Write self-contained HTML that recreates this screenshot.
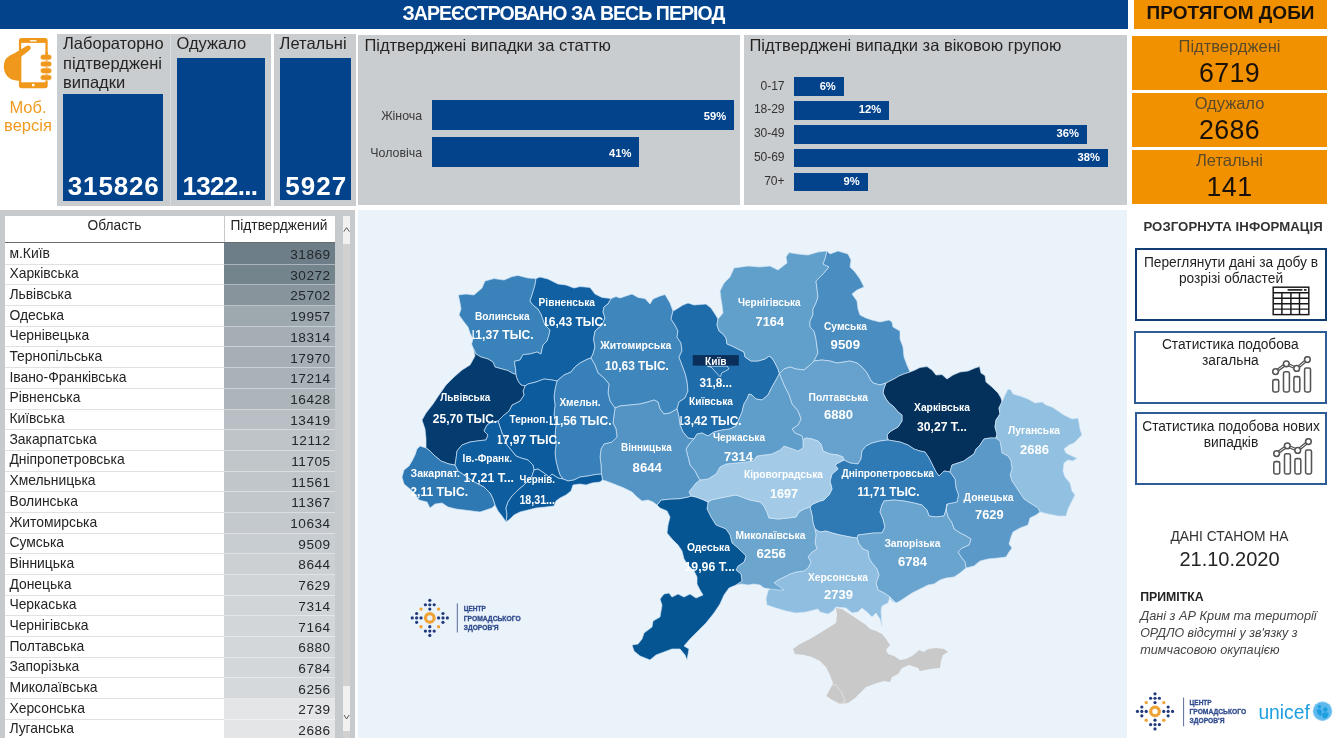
<!DOCTYPE html><html lang="uk"><head><meta charset="utf-8"><title>COVID-19 Україна</title><style>
html,body{margin:0;padding:0;background:#ffffff;}
body{width:1340px;height:739px;position:relative;overflow:hidden;font-family:'Liberation Sans',sans-serif;color:#252423;}
div,span{box-sizing:border-box;}
.abs{position:absolute;}
.t{position:absolute;white-space:nowrap;line-height:1;}
.panel{position:absolute;background:#c9cdd0;}
.bar{position:absolute;background:#02438c;}
.kv{position:absolute;color:#fff;font-weight:bold;font-size:26px;line-height:1;white-space:nowrap;}
.pct{position:absolute;color:#fff;font-weight:bold;font-size:11.2px;line-height:1;white-space:nowrap;text-align:right;}
.lab{position:absolute;color:#3a3a3a;font-size:12.4px;line-height:1;white-space:nowrap;text-align:right;}
.obox{position:absolute;left:1132px;width:195px;background:#f29100;text-align:center;}
.obox .l{position:absolute;left:0;width:195px;font-size:16.5px;line-height:1;color:#5b4a2a;}
.obox .v{position:absolute;left:0;width:195px;font-size:26.8px;line-height:1;color:#1a1208;letter-spacing:0.4px;}
#tbl{position:absolute;left:0;top:210px;width:355px;height:527.5px;background:#c6cacc;overflow:hidden;}
#tbl .th{position:absolute;background:#fff;font-size:13.74px;color:#252423;}
#tbl .th span{position:absolute;top:3.2px;line-height:1;white-space:nowrap;}
#tbl .r{position:absolute;left:5px;width:330px;height:20.69px;}
#tbl .c1{position:absolute;left:0;top:0;width:219px;height:20.69px;background:#fff;border-bottom:1.8px solid #e1e1e1;font-size:13.9px;line-height:1;padding:2.6px 0 0 4.4px;white-space:nowrap;color:#252423;}
#tbl .c2{position:absolute;left:219px;top:0;width:111px;height:20.69px;border-bottom:1.5px solid rgba(255,255,255,0.42);font-size:13.6px;letter-spacing:0.5px;line-height:1;padding:4.1px 4.4px 0 0;text-align:right;color:#23282c;white-space:nowrap;}
.btn{position:absolute;background:#fff;text-align:center;font-size:13.74px;line-height:15.7px;color:#1f1f1f;}
</style></head><body>
<div class="abs" style="left:0;top:0;width:1128px;height:28.7px;background:#02438c"></div>
<div class="t" style="left:0;top:2.1px;width:1127px;text-align:center;color:#fff;font-weight:bold;font-size:19.5px;letter-spacing:-0.93px;line-height:22px">ЗАРЕЄСТРОВАНО ЗА ВЕСЬ ПЕРІОД</div>
<div class="abs" style="left:1134px;top:0;width:193px;height:28.7px;background:#f29100"></div>
<div class="t" style="left:1134px;top:2.1px;width:193px;text-align:center;color:#1a1208;font-weight:bold;font-size:19px;line-height:22px">ПРОТЯГОМ ДОБИ</div>
<svg style="position:absolute;left:0;top:0" width="60" height="96" viewBox="0 0 60 96">
<rect x="18.9" y="38" width="28.8" height="50.3" rx="2.8" fill="#f0981c"/>
<rect x="21.2" y="42.9" width="24.2" height="39.4" fill="#ffffff"/>
<rect x="29.8" y="40.1" width="6.9" height="1.4" rx="0.7" fill="#ffffff" fill-opacity="0.85"/>
<circle cx="33.2" cy="85.1" r="1.45" fill="#ffffff"/>
<path d="M26.6,46 C28.6,44.8 31.6,46.6 30.6,48.8 C29.5,50.6 24,54.5 21.2,56.8 L21.2,80.8 L18.5,80.8 C12,80.6 7,77.5 4.8,72 C3.2,67.5 3.6,62 6.2,58.6 C8.2,56 11.5,54.6 14.5,53.2 Z" fill="#f0981c"/>
<g fill="#f0981c" stroke="#ffffff" stroke-width="0.5"><rect x="40.4" y="54.4" width="11.3" height="5.5" rx="2.7"/><rect x="40.4" y="61.2" width="11.3" height="5.5" rx="2.7"/><rect x="40.4" y="68" width="11.3" height="5.5" rx="2.7"/><rect x="40.4" y="74.8" width="11.3" height="5.5" rx="2.7"/></g>
<rect x="45.4" y="52" width="2.3" height="4" fill="#f0981c"/>
</svg>
<div class="t" style="left:0;top:97.5px;width:56px;text-align:center;color:#f09a1f;font-size:16.5px;line-height:18.6px;white-space:normal">Моб. версія</div>
<div class="abs" style="left:57px;top:34.2px;width:214px;height:171.6px;background:#d9dcdf"></div><div class="panel" style="left:57px;top:34.2px;width:112.8px;height:171.6px"></div>
<div class="panel" style="left:171.1px;top:34.2px;width:99.9px;height:171.6px"></div>
<div class="panel" style="left:273.5px;top:34.2px;width:82.5px;height:171.6px"></div>
<div class="t" style="left:63px;top:34.4px;font-size:16.5px;line-height:19.3px;white-space:normal;width:106px;color:#252423">Лабораторно підтверджені випадки</div>
<div class="t" style="left:176.5px;top:34.4px;font-size:16.5px;line-height:19.3px;color:#252423">Одужало</div>
<div class="t" style="left:279.6px;top:34.4px;font-size:16.5px;line-height:19.3px;color:#252423">Летальні</div>
<div class="bar" style="left:63.2px;top:94.3px;width:100px;height:106.3px"></div>
<div class="bar" style="left:177px;top:58.2px;width:87.6px;height:141.4px"></div>
<div class="bar" style="left:279.8px;top:58.2px;width:71.2px;height:141.4px"></div>
<div class="kv" style="left:67.8px;top:173.1px;letter-spacing:0.85px">315826</div>
<div class="kv" style="left:182.6px;top:173.1px;letter-spacing:-0.7px">1322...</div>
<div class="kv" style="left:285.2px;top:173.1px;letter-spacing:1.1px">5927</div>
<div class="panel" style="left:358px;top:35.2px;width:382.3px;height:169.4px"></div>
<div class="t" style="left:364.4px;top:36px;font-size:16.5px;line-height:19px;color:#252423">Підтверджені випадки за статтю</div>
<div class="bar" style="left:431.8px;top:100.1px;width:302.6px;height:29.8px"></div>
<div class="bar" style="left:431.8px;top:137.1px;width:207.6px;height:29.8px"></div>
<div class="lab" style="left:360px;width:62.2px;top:110.2px">Жіноча</div>
<div class="lab" style="left:360px;width:62.2px;top:147.2px">Чоловіча</div>
<div class="pct" style="left:680px;width:46.2px;top:111.2px">59%</div>
<div class="pct" style="left:585px;width:46.5px;top:148.2px">41%</div>
<div class="panel" style="left:744px;top:35.2px;width:383px;height:169.4px"></div>
<div class="t" style="left:749.4px;top:36px;font-size:16.5px;line-height:19px;color:#252423">Підтверджені випадки за віковою групою</div>
<div class="bar" style="left:794.1px;top:76.9px;width:49.9px;height:18.8px"></div>
<div class="lab" style="left:744px;width:40.4px;top:79.5px;font-size:12.1px;letter-spacing:-0.1px;color:#333">0-17</div>
<div class="pct" style="left:784.0px;width:51.8px;top:80.5px">6%</div>
<div class="bar" style="left:794.1px;top:100.8px;width:95.2px;height:18.8px"></div>
<div class="lab" style="left:744px;width:40.4px;top:103.4px;font-size:12.1px;letter-spacing:-0.1px;color:#333">18-29</div>
<div class="pct" style="left:829.3px;width:51.8px;top:104.4px">12%</div>
<div class="bar" style="left:794.1px;top:124.8px;width:293.1px;height:18.8px"></div>
<div class="lab" style="left:744px;width:40.4px;top:127.4px;font-size:12.1px;letter-spacing:-0.1px;color:#333">30-49</div>
<div class="pct" style="left:1027.2px;width:51.8px;top:128.4px">36%</div>
<div class="bar" style="left:794.1px;top:148.7px;width:314.0px;height:18.8px"></div>
<div class="lab" style="left:744px;width:40.4px;top:151.3px;font-size:12.1px;letter-spacing:-0.1px;color:#333">50-69</div>
<div class="pct" style="left:1048.1px;width:51.8px;top:152.3px">38%</div>
<div class="bar" style="left:794.1px;top:172.6px;width:73.7px;height:18.8px"></div>
<div class="lab" style="left:744px;width:40.4px;top:175.2px;font-size:12.1px;letter-spacing:-0.1px;color:#333">70+</div>
<div class="pct" style="left:807.8px;width:51.8px;top:176.2px">9%</div>
<div class="obox" style="top:35.8px;height:54.6px"><div class="l" style="top:2.6px">Підтверджені</div><div class="v" style="top:24px">6719</div></div>
<div class="obox" style="top:92.8px;height:54.6px"><div class="l" style="top:2.6px">Одужало</div><div class="v" style="top:24px">2686</div></div>
<div class="obox" style="top:149.8px;height:54.6px"><div class="l" style="top:2.6px">Летальні</div><div class="v" style="top:24px">141</div></div>
<div id="tbl">
<div class="th" style="left:5px;top:6px;width:219px;height:26px"><span style="left:0;width:219px;text-align:center">Область</span></div>
<div class="th" style="left:225px;top:6px;width:110px;height:26px"><span style="left:0;width:108px;text-align:center">Підтверджений</span></div>
<div style="position:absolute;left:5px;top:32px;width:330px;height:1px;background:#6b6b6b"></div>
<div class="r" style="top:33px;height:21.69px"><div class="c1" style="height:21.69px;padding-top:3.6px">м.Київ</div><div class="c2" style="height:21.69px;padding-top:5.2px;background:#6e7e88">31869</div></div>
<div class="r" style="top:54.69px"><div class="c1">Харківська</div><div class="c2" style="background:#74848d">30272</div></div>
<div class="r" style="top:75.38px"><div class="c1">Львівська</div><div class="c2" style="background:#87949c">25702</div></div>
<div class="r" style="top:96.07px"><div class="c1">Одеська</div><div class="c2" style="background:#9ea8af">19957</div></div>
<div class="r" style="top:116.76px"><div class="c1">Чернівецька</div><div class="c2" style="background:#a5aeb4">18314</div></div>
<div class="r" style="top:137.45px"><div class="c1">Тернопільська</div><div class="c2" style="background:#a6afb5">17970</div></div>
<div class="r" style="top:158.14px"><div class="c1">Івано-Франківська</div><div class="c2" style="background:#a9b2b8">17214</div></div>
<div class="r" style="top:178.83px"><div class="c1">Рівненська</div><div class="c2" style="background:#acb5ba">16428</div></div>
<div class="r" style="top:199.52px"><div class="c1">Київська</div><div class="c2" style="background:#b9bfc4">13419</div></div>
<div class="r" style="top:220.21px"><div class="c1">Закарпатська</div><div class="c2" style="background:#bec4c8">12112</div></div>
<div class="r" style="top:240.90px"><div class="c1">Дніпропетровська</div><div class="c2" style="background:#c0c6c9">11705</div></div>
<div class="r" style="top:261.59px"><div class="c1">Хмельницька</div><div class="c2" style="background:#c0c6ca">11561</div></div>
<div class="r" style="top:282.28px"><div class="c1">Волинська</div><div class="c2" style="background:#c1c7cb">11367</div></div>
<div class="r" style="top:302.97px"><div class="c1">Житомирська</div><div class="c2" style="background:#c4c9cd">10634</div></div>
<div class="r" style="top:323.66px"><div class="c1">Сумська</div><div class="c2" style="background:#c8cdd1">9509</div></div>
<div class="r" style="top:344.35px"><div class="c1">Вінницька</div><div class="c2" style="background:#ccd0d3">8644</div></div>
<div class="r" style="top:365.04px"><div class="c1">Донецька</div><div class="c2" style="background:#d0d4d7">7629</div></div>
<div class="r" style="top:385.73px"><div class="c1">Черкаська</div><div class="c2" style="background:#d1d5d8">7314</div></div>
<div class="r" style="top:406.42px"><div class="c1">Чернігівська</div><div class="c2" style="background:#d2d6d8">7164</div></div>
<div class="r" style="top:427.11px"><div class="c1">Полтавська</div><div class="c2" style="background:#d3d7d9">6880</div></div>
<div class="r" style="top:447.80px"><div class="c1">Запорізька</div><div class="c2" style="background:#d3d7d9">6784</div></div>
<div class="r" style="top:468.49px"><div class="c1">Миколаївська</div><div class="c2" style="background:#d6d9db">6256</div></div>
<div class="r" style="top:489.18px"><div class="c1">Херсонська</div><div class="c2" style="background:#e4e5e7">2739</div></div>
<div class="r" style="top:509.87px"><div class="c1">Луганська</div><div class="c2" style="background:#e4e5e7">2686</div></div>
<div style="position:absolute;left:343px;top:6px;width:7px;height:522px;background:#d2d1d2"></div>
<div style="position:absolute;left:343px;top:6px;width:7px;height:28px;background:#f1f1f1"></div>
<div style="position:absolute;left:343px;top:476px;width:7px;height:45px;background:#f1f1f1"></div>
<svg style="position:absolute;left:343px;top:16px" width="8" height="8"><path d="M0.8,5.6 L3.6,1.6 L6.4,5.6" fill="none" stroke="#444" stroke-width="0.9"/></svg>
<svg style="position:absolute;left:343px;top:503px" width="8" height="8"><path d="M1,2 L3.6,6 L6.2,2" fill="none" stroke="#444" stroke-width="0.9"/></svg>
</div>
<div class="abs" style="left:358px;top:210px;width:769px;height:527.5px;background:#eaf2fa"></div>
<svg id="map" width="1340" height="739" viewBox="0 0 1340 739" style="position:absolute;left:0;top:0">
<defs>
</defs>
<g stroke="#d4e7f8" stroke-opacity="0.82" stroke-width="0.8" stroke-linejoin="round">
<polygon points="473.6,349.0 471.6,344.0 473.0,339.0 470.0,333.0 468.0,327.0 464.0,322.0 459.0,315.0 461.0,309.0 460.0,303.0 458.4,295.0 466.0,294.0 474.0,295.0 482.0,288.0 485.0,281.0 494.0,278.6 504.0,280.0 512.0,276.6 518.0,275.4 528.0,278.0 536.0,278.6 535.0,285.0 532.0,295.0 530.0,301.0 533.0,305.0 538.0,309.0 541.0,314.0 545.0,325.0 550.0,330.0 549.0,335.0 547.0,341.0 543.0,345.0 541.0,354.0 537.0,352.0 530.0,354.0 523.0,354.6 520.0,360.0 514.4,361.4 515.6,369.0 516.0,374.6 512.0,373.0 508.0,370.6 502.0,369.0 495.0,367.0 493.0,362.0 488.0,359.0 481.0,357.0 476.0,354.0 473.6,349.0" fill="#3982ba"/>
<polygon points="536.0,278.6 540.0,277.0 548.0,279.0 558.0,284.0 566.0,285.0 574.0,288.0 580.0,286.6 590.0,287.4 595.0,294.0 602.0,297.4 611.0,298.6 608.0,304.0 604.0,307.0 603.0,312.0 605.0,318.0 602.0,325.0 595.0,331.0 593.6,339.0 595.0,347.0 593.0,354.0 591.0,358.0 587.0,359.4 580.0,363.0 575.0,367.0 571.0,372.0 564.0,375.0 557.0,381.0 552.0,380.0 544.0,379.0 536.0,382.0 528.0,384.0 525.0,386.0 521.0,385.0 518.0,381.0 516.4,377.0 516.0,374.6 515.6,369.0 514.4,361.4 520.0,360.0 523.0,354.6 530.0,354.0 537.0,352.0 541.0,354.0 543.0,345.0 547.0,341.0 549.0,335.0 550.0,330.0 545.0,325.0 541.0,314.0 538.0,309.0 533.0,305.0 530.0,301.0 532.0,295.0 535.0,285.0 536.0,278.6" fill="#1060a2"/>
<polygon points="611.0,298.6 616.0,296.6 620.0,298.0 626.0,296.0 632.0,294.0 638.0,297.4 645.0,298.6 650.0,304.0 653.0,299.0 660.0,296.0 665.0,294.6 670.0,303.0 673.0,311.0 671.0,319.0 675.0,325.0 678.0,331.0 677.0,337.0 681.0,343.0 682.0,351.0 679.0,357.0 682.0,365.0 685.0,373.0 687.0,381.0 688.0,391.0 685.0,398.0 679.0,402.0 677.0,409.0 670.0,413.0 664.0,414.0 660.0,409.0 658.0,402.0 654.0,400.0 648.0,402.0 640.0,404.0 630.0,405.0 620.0,406.0 615.0,408.0 610.0,401.0 608.0,393.0 609.0,384.0 604.0,378.0 598.0,373.0 595.0,365.0 591.0,358.0 593.0,354.0 595.0,347.0 593.6,339.0 595.0,331.0 602.0,325.0 605.0,318.0 603.0,312.0 604.0,307.0 608.0,304.0 611.0,298.6" fill="#3f86bc"/>
<polygon points="673.0,311.0 675.0,310.0 683.0,305.0 688.0,303.0 694.0,305.0 706.0,304.0 711.0,308.0 715.0,314.0 718.0,319.0 717.0,325.0 719.0,331.0 723.0,334.0 726.0,338.0 727.0,344.0 732.0,346.0 738.0,349.0 744.0,352.0 745.0,357.0 751.0,361.0 758.0,361.0 765.0,359.0 769.0,356.0 772.0,358.0 775.0,363.0 778.0,369.0 779.4,373.6 776.0,380.0 772.0,387.0 768.0,395.0 762.0,400.0 756.0,399.0 752.0,395.0 749.0,394.0 747.0,399.0 744.0,404.0 742.0,412.0 739.0,419.0 736.0,426.0 730.0,429.0 722.0,430.0 714.0,432.0 708.0,436.0 702.0,433.0 697.0,434.0 694.0,439.0 688.0,438.0 683.0,432.0 680.0,425.0 679.0,417.0 677.0,409.0 679.0,402.0 685.0,398.0 688.0,391.0 687.0,381.0 685.0,373.0 682.0,365.0 679.0,357.0 682.0,351.0 681.0,343.0 677.0,337.0 678.0,331.0 675.0,325.0 671.0,319.0 673.0,311.0" fill="#1f6cab"/>
<polygon points="718.0,319.0 723.0,313.0 722.0,305.0 721.0,299.0 720.0,291.0 724.0,283.0 730.0,277.0 734.0,268.0 748.0,266.0 760.0,267.0 770.0,266.0 778.0,270.0 787.0,263.0 786.0,257.0 789.0,252.6 798.0,254.0 808.0,255.0 818.0,252.0 827.0,251.0 825.0,259.0 823.0,264.0 829.0,267.0 824.0,273.0 820.0,277.0 816.0,281.0 817.0,289.0 818.0,297.0 816.0,303.0 813.0,309.0 813.0,315.0 810.0,321.0 810.0,327.0 814.0,331.0 816.0,339.0 817.0,347.0 818.0,353.0 816.0,357.0 814.0,361.0 810.0,365.0 804.0,370.0 796.0,369.0 790.0,367.0 784.0,369.0 779.4,373.6 778.0,369.0 775.0,363.0 772.0,358.0 769.0,356.0 765.0,359.0 758.0,361.0 751.0,361.0 745.0,357.0 744.0,352.0 738.0,349.0 732.0,346.0 727.0,344.0 726.0,338.0 723.0,334.0 719.0,331.0 717.0,325.0 718.0,319.0" fill="#62a0cc"/>
<polygon points="827.0,251.0 830.0,254.0 838.0,251.0 848.0,254.0 851.0,260.0 850.0,267.0 855.0,272.0 860.0,279.0 864.0,287.0 857.0,290.0 852.0,294.0 857.0,301.0 858.0,309.0 860.0,315.0 866.0,318.0 872.0,320.0 880.0,322.0 889.0,320.0 892.0,322.0 893.0,327.0 900.0,331.0 900.0,339.0 903.0,347.0 904.0,357.0 907.0,365.0 910.0,372.0 904.0,374.0 899.0,376.0 894.0,379.0 886.0,383.0 880.0,385.0 873.0,383.0 870.0,379.0 867.0,373.0 862.0,367.0 857.0,363.0 850.0,361.0 844.0,362.0 837.0,363.0 830.0,361.0 822.0,360.0 814.0,361.0 816.0,357.0 818.0,353.0 817.0,347.0 816.0,339.0 814.0,331.0 810.0,327.0 810.0,321.0 813.0,315.0 813.0,309.0 816.0,303.0 818.0,297.0 817.0,289.0 816.0,281.0 820.0,277.0 824.0,273.0 829.0,267.0 823.0,264.0 825.0,259.0 827.0,251.0" fill="#4a8ec1"/>
<polygon points="910.0,372.0 915.0,370.0 920.0,367.4 927.0,366.6 932.0,370.0 936.0,375.0 942.0,374.6 947.0,379.0 953.0,375.0 960.0,372.0 968.0,371.0 975.0,368.0 979.6,366.6 981.0,373.0 985.0,375.6 986.0,382.0 992.0,387.0 998.0,393.0 1001.0,398.0 1002.0,402.0 999.0,408.0 1000.0,414.0 996.0,420.0 995.0,427.0 997.0,434.0 996.0,438.0 990.0,438.0 984.0,439.0 980.0,445.0 976.0,449.0 974.0,454.0 968.0,458.0 964.0,461.0 958.0,463.0 952.0,465.0 950.0,472.0 944.0,471.0 939.0,476.0 936.0,472.0 932.0,464.0 929.0,458.0 925.0,452.0 920.0,451.0 914.0,449.0 908.0,445.0 900.0,442.0 894.0,441.0 888.0,440.0 887.0,435.0 891.0,431.0 898.0,427.0 902.0,421.0 902.0,415.0 898.0,412.0 894.0,407.0 889.0,403.0 886.0,399.0 883.0,393.0 884.0,388.0 886.0,383.0 894.0,379.0 899.0,376.0 904.0,374.0 910.0,372.0" fill="#03315c"/>
<polygon points="1002.0,402.0 1005.0,395.0 1008.0,389.0 1011.0,390.0 1013.0,394.0 1020.0,396.0 1028.0,399.0 1035.0,403.0 1042.0,402.0 1046.0,405.0 1052.0,407.0 1058.0,411.0 1064.0,415.0 1072.0,419.0 1078.0,418.0 1079.0,423.0 1080.0,429.0 1082.0,435.0 1078.0,439.0 1074.0,443.0 1069.0,445.0 1064.0,449.0 1066.0,453.0 1072.0,456.0 1077.0,458.0 1073.0,461.0 1068.0,460.0 1064.0,463.0 1063.0,471.0 1065.0,477.0 1070.0,483.0 1072.0,491.0 1075.0,495.0 1072.0,501.0 1068.0,509.0 1066.0,516.0 1058.0,516.0 1048.0,514.0 1040.0,512.0 1038.0,508.0 1030.0,503.0 1024.0,499.0 1020.0,493.0 1016.0,487.0 1012.0,481.0 1010.0,475.0 1012.0,469.0 1011.0,461.0 1008.0,456.0 1002.0,453.0 1001.0,447.0 1000.0,441.0 996.0,438.0 997.0,434.0 995.0,427.0 996.0,420.0 1000.0,414.0 999.0,408.0 1002.0,402.0" fill="#92c0e1"/>
<polygon points="996.0,438.0 1000.0,441.0 1001.0,447.0 1002.0,453.0 1008.0,456.0 1011.0,461.0 1012.0,469.0 1010.0,475.0 1012.0,481.0 1016.0,487.0 1020.0,493.0 1024.0,499.0 1030.0,503.0 1038.0,508.0 1040.0,512.0 1036.0,515.0 1030.0,518.0 1028.0,525.0 1020.0,528.0 1013.0,532.0 1011.0,537.0 1009.0,544.0 1012.0,548.0 1009.0,552.0 1006.0,557.0 998.0,558.0 988.0,559.0 980.0,561.0 974.0,566.0 966.0,568.0 965.0,562.0 961.0,557.0 958.0,552.0 962.0,548.0 969.0,545.0 971.0,539.0 966.0,536.0 960.0,533.0 954.0,529.0 952.0,523.0 948.0,517.0 946.0,510.0 947.0,504.0 957.0,502.0 958.5,495.0 956.0,488.0 955.0,479.0 950.0,472.0 952.0,465.0 958.0,463.0 964.0,461.0 968.0,458.0 974.0,454.0 976.0,449.0 980.0,445.0 984.0,439.0 990.0,438.0 996.0,438.0" fill="#5a99c8"/>
<polygon points="779.4,373.6 784.0,369.0 790.0,367.0 796.0,369.0 804.0,370.0 810.0,365.0 814.0,361.0 822.0,360.0 830.0,361.0 837.0,363.0 844.0,362.0 850.0,361.0 857.0,363.0 862.0,367.0 867.0,373.0 870.0,379.0 873.0,383.0 880.0,385.0 886.0,383.0 884.0,388.0 883.0,393.0 886.0,399.0 889.0,403.0 894.0,407.0 898.0,412.0 902.0,415.0 902.0,421.0 898.0,427.0 891.0,431.0 887.0,435.0 888.0,440.0 880.0,441.0 872.0,443.0 866.0,446.0 862.0,451.0 861.0,459.0 858.0,464.0 850.0,463.0 844.0,460.0 843.0,457.0 838.0,455.0 830.0,454.0 823.0,451.0 821.0,444.0 818.0,441.0 812.0,439.0 806.0,438.0 803.0,440.0 802.0,436.0 795.0,433.0 792.0,429.0 798.0,425.0 801.0,419.0 798.0,411.0 792.0,404.0 789.0,395.0 784.0,385.0 779.4,373.6" fill="#66a2cd"/>
<polygon points="844.0,460.0 850.0,463.0 858.0,464.0 861.0,459.0 862.0,451.0 866.0,446.0 872.0,443.0 880.0,441.0 888.0,440.0 894.0,441.0 900.0,442.0 908.0,445.0 914.0,449.0 920.0,451.0 925.0,452.0 929.0,458.0 932.0,464.0 936.0,472.0 939.0,476.0 944.0,471.0 950.0,472.0 955.0,479.0 956.0,488.0 958.5,495.0 957.0,502.0 947.0,504.0 946.0,510.0 944.0,516.0 936.0,517.0 929.0,516.0 927.0,510.0 922.0,505.0 914.0,503.0 904.0,501.0 894.0,500.0 884.0,501.0 882.0,505.0 880.0,512.0 883.0,519.0 885.0,527.0 882.0,533.0 874.0,533.0 866.0,534.0 858.0,535.0 857.0,538.0 850.0,537.0 840.0,535.0 832.0,533.0 826.0,531.0 820.0,532.0 815.0,529.0 813.0,523.0 812.0,515.0 810.0,507.0 813.0,504.0 820.0,501.0 824.0,500.0 829.0,495.0 832.0,489.0 830.0,481.0 832.0,474.0 838.0,469.0 835.0,465.0 838.0,463.0 844.0,460.0" fill="#2f7ab5"/>
<polygon points="857.0,538.0 858.0,535.0 866.0,534.0 874.0,533.0 882.0,533.0 885.0,527.0 883.0,519.0 880.0,512.0 882.0,505.0 884.0,501.0 894.0,500.0 904.0,501.0 914.0,503.0 922.0,505.0 927.0,510.0 929.0,516.0 936.0,517.0 944.0,516.0 946.0,510.0 947.0,504.0 946.0,510.0 948.0,517.0 952.0,523.0 954.0,529.0 960.0,533.0 966.0,536.0 971.0,539.0 969.0,545.0 962.0,548.0 958.0,552.0 961.0,557.0 965.0,562.0 966.0,568.0 960.0,573.0 954.0,577.0 946.0,578.0 940.0,580.0 934.0,584.0 928.0,585.0 920.0,589.0 912.0,593.0 906.0,597.0 900.0,601.0 896.0,603.0 890.0,597.0 884.0,593.0 878.0,590.0 876.0,583.0 879.0,575.0 877.0,569.0 872.0,563.0 869.0,558.0 868.0,551.0 863.0,549.0 859.0,544.0 857.0,538.0" fill="#68a4ce"/>
<polygon points="815.0,529.0 820.0,532.0 826.0,531.0 832.0,533.0 840.0,535.0 850.0,537.0 857.0,538.0 859.0,544.0 863.0,549.0 868.0,551.0 869.0,558.0 872.0,563.0 877.0,569.0 879.0,575.0 876.0,583.0 878.0,590.0 884.0,593.0 890.0,597.0 896.0,603.0 894.0,602.0 891.0,600.0 890.0,597.0 888.0,603.0 882.0,606.0 881.0,611.0 882.0,627.0 880.0,619.0 876.0,613.0 872.0,617.0 868.0,613.0 862.0,608.0 858.0,612.0 852.0,613.0 846.0,608.0 836.0,607.0 833.0,611.0 828.0,614.0 820.0,612.0 818.0,609.0 814.0,610.0 806.0,612.0 796.0,613.0 786.0,611.0 776.0,608.0 767.0,605.0 766.0,599.0 768.0,591.0 774.0,583.0 778.0,580.0 784.0,577.0 790.0,574.0 796.0,572.0 804.0,571.0 808.0,568.0 811.0,562.0 808.0,557.0 812.0,552.0 817.0,549.0 815.0,543.0 816.0,535.0 815.0,529.0" fill="#8fbee0"/>
<polygon points="708.0,502.0 711.0,500.0 720.0,498.0 730.0,496.0 736.0,495.0 742.0,497.0 750.0,500.0 760.0,502.0 764.0,506.0 767.0,512.0 769.0,518.0 778.0,519.0 788.0,518.0 796.0,517.0 799.0,512.0 804.0,509.0 810.0,507.0 812.0,515.0 813.0,523.0 815.0,529.0 816.0,535.0 815.0,543.0 817.0,549.0 812.0,552.0 808.0,557.0 811.0,562.0 808.0,568.0 804.0,571.0 796.0,572.0 790.0,574.0 784.0,577.0 778.0,580.0 774.0,583.0 780.0,587.0 784.0,590.0 778.0,590.0 770.0,589.0 764.0,588.0 760.0,585.0 754.0,584.0 748.0,585.0 742.0,584.0 736.0,585.0 742.0,581.0 741.0,574.0 736.0,570.0 738.0,566.0 744.0,562.0 746.0,556.0 742.0,552.0 738.0,548.0 732.0,543.0 730.0,535.0 726.0,529.0 716.0,525.0 711.0,517.0 707.0,509.0 708.0,502.0" fill="#6ca6cf"/>
<polygon points="657.0,505.0 661.0,500.0 670.0,499.0 680.0,498.6 688.0,497.0 691.0,496.0 696.0,497.0 703.0,499.6 708.0,502.0 707.0,509.0 711.0,517.0 716.0,525.0 726.0,529.0 730.0,535.0 732.0,543.0 738.0,548.0 742.0,552.0 746.0,556.0 744.0,562.0 738.0,566.0 736.0,570.0 741.0,574.0 742.0,581.0 736.0,585.0 729.0,588.0 724.0,595.0 720.0,604.0 714.0,613.0 706.0,623.0 698.0,631.0 690.0,639.0 684.0,646.0 689.0,649.0 687.0,660.0 685.0,655.0 680.0,649.0 672.0,649.0 664.0,652.0 656.0,655.0 650.0,660.0 640.0,656.0 634.0,651.0 632.0,645.0 638.0,644.0 642.0,639.0 644.0,633.0 652.0,627.0 653.0,621.0 660.0,617.0 661.0,611.0 662.0,605.0 660.0,599.0 664.0,594.0 669.0,593.0 672.0,597.0 678.0,594.0 684.0,597.0 690.0,594.0 696.0,598.0 703.0,595.0 700.0,590.0 697.0,584.0 697.0,577.0 694.0,571.0 688.0,565.0 684.0,559.0 682.0,551.0 678.0,545.0 672.0,539.0 667.0,533.0 668.0,525.0 670.0,517.0 667.0,511.0 660.0,508.0 657.0,505.0" fill="#055593"/>
<polygon points="700.0,480.0 708.0,479.0 716.0,474.0 720.0,467.0 726.0,464.0 736.0,463.0 746.0,462.0 753.0,461.0 757.0,456.0 764.0,455.0 772.0,454.0 780.0,450.0 784.0,446.0 790.0,448.0 798.0,451.0 803.0,448.0 803.0,440.0 806.0,438.0 812.0,439.0 818.0,441.0 821.0,444.0 823.0,451.0 830.0,454.0 838.0,455.0 843.0,457.0 844.0,460.0 838.0,463.0 835.0,465.0 838.0,469.0 832.0,474.0 830.0,481.0 832.0,489.0 829.0,495.0 824.0,500.0 820.0,501.0 813.0,504.0 810.0,507.0 804.0,509.0 799.0,512.0 796.0,517.0 788.0,518.0 778.0,519.0 769.0,518.0 767.0,512.0 764.0,506.0 760.0,502.0 750.0,500.0 742.0,497.0 736.0,495.0 730.0,496.0 720.0,498.0 711.0,500.0 708.0,502.0 703.0,499.6 696.0,497.0 691.0,496.0 689.0,492.0 692.0,488.0 696.0,483.0 700.0,480.0" fill="#a3cbe8"/>
<polygon points="694.0,439.0 697.0,434.0 702.0,433.0 708.0,436.0 714.0,432.0 722.0,430.0 730.0,429.0 736.0,426.0 739.0,419.0 742.0,412.0 744.0,404.0 747.0,399.0 749.0,394.0 752.0,395.0 756.0,399.0 762.0,400.0 768.0,395.0 772.0,387.0 776.0,380.0 779.4,373.6 784.0,385.0 789.0,395.0 792.0,404.0 798.0,411.0 801.0,419.0 798.0,425.0 792.0,429.0 795.0,433.0 802.0,436.0 803.0,440.0 803.0,448.0 798.0,451.0 790.0,448.0 784.0,446.0 780.0,450.0 772.0,454.0 764.0,455.0 757.0,456.0 753.0,461.0 746.0,462.0 736.0,463.0 726.0,464.0 720.0,467.0 716.0,474.0 708.0,479.0 700.0,480.0 698.0,477.0 695.0,471.0 690.0,465.0 688.0,457.0 686.0,449.0 690.0,443.0 694.0,439.0" fill="#5f9dca"/>
<polygon points="615.0,408.0 620.0,406.0 630.0,405.0 640.0,404.0 648.0,402.0 654.0,400.0 658.0,402.0 660.0,409.0 664.0,414.0 670.0,413.0 677.0,409.0 679.0,417.0 680.0,425.0 683.0,432.0 688.0,438.0 694.0,439.0 690.0,443.0 686.0,449.0 688.0,457.0 690.0,465.0 695.0,471.0 698.0,477.0 700.0,480.0 696.0,483.0 692.0,488.0 689.0,492.0 691.0,496.0 688.0,497.0 680.0,498.6 670.0,499.0 661.0,500.0 657.0,505.0 653.0,502.0 648.0,500.0 642.0,501.0 637.0,497.0 632.0,492.0 624.0,488.0 614.0,484.0 606.0,481.0 602.4,480.0 601.5,474.0 601.0,465.0 600.0,457.0 601.0,449.0 604.0,444.0 612.0,442.0 617.0,437.0 616.0,429.0 613.0,423.0 614.0,415.0 615.0,408.0" fill="#5394c5"/>
<polygon points="557.0,381.0 564.0,375.0 571.0,372.0 575.0,367.0 580.0,363.0 587.0,359.4 591.0,358.0 595.0,365.0 598.0,373.0 604.0,378.0 609.0,384.0 608.0,393.0 610.0,401.0 615.0,408.0 614.0,415.0 613.0,423.0 616.0,429.0 617.0,437.0 612.0,442.0 604.0,444.0 601.0,449.0 600.0,457.0 601.0,465.0 601.5,474.0 595.0,474.6 588.0,476.0 580.0,477.0 574.0,480.0 568.0,481.0 563.0,479.0 560.0,475.0 558.0,469.0 556.0,461.0 555.0,453.0 556.0,445.0 555.0,435.0 556.0,425.0 554.0,415.0 555.0,405.0 554.0,397.0 555.0,389.0 557.0,381.0" fill="#3780b9"/>
<polygon points="557.0,381.0 552.0,380.0 544.0,379.0 536.0,382.0 528.0,384.0 525.0,386.0 523.0,391.0 524.0,395.0 520.0,401.0 512.0,405.0 509.0,411.0 504.0,415.0 498.0,421.0 500.0,427.0 502.0,433.0 505.0,439.0 507.0,445.0 512.0,451.0 516.0,456.0 521.0,458.0 528.0,460.0 533.0,465.0 534.0,470.0 538.0,469.0 544.0,473.0 549.0,477.0 552.0,474.0 558.0,478.0 563.0,479.0 560.0,475.0 558.0,469.0 556.0,461.0 555.0,453.0 556.0,445.0 555.0,435.0 556.0,425.0 554.0,415.0 555.0,405.0 554.0,397.0 555.0,389.0 557.0,381.0" fill="#0b5b9d"/>
<polygon points="473.6,349.0 476.0,354.0 481.0,357.0 488.0,359.0 493.0,362.0 495.0,367.0 502.0,369.0 508.0,370.6 512.0,373.0 516.0,374.6 516.4,377.0 518.0,381.0 521.0,385.0 525.0,386.0 523.0,391.0 524.0,395.0 520.0,401.0 512.0,405.0 509.0,411.0 504.0,415.0 498.0,421.0 490.0,423.0 487.0,425.0 484.0,431.0 488.0,435.0 486.0,440.0 480.0,440.6 470.0,442.0 462.0,445.0 457.0,451.0 456.0,459.0 455.0,465.0 449.0,464.0 441.0,461.0 435.0,456.0 430.0,451.0 426.0,448.0 426.0,439.0 425.0,429.0 422.0,420.0 426.0,413.0 433.0,404.0 439.0,395.0 446.0,385.0 454.0,377.0 462.0,370.0 470.0,365.0 475.0,356.0 473.6,349.0" fill="#043c6f"/>
<polygon points="455.0,465.0 456.0,459.0 457.0,451.0 462.0,445.0 470.0,442.0 480.0,440.6 486.0,440.0 488.0,435.0 484.0,431.0 487.0,425.0 490.0,423.0 498.0,421.0 500.0,427.0 502.0,433.0 505.0,439.0 507.0,445.0 512.0,451.0 516.0,456.0 521.0,458.0 528.0,460.0 533.0,465.0 534.0,470.0 532.0,476.0 530.0,479.0 524.0,485.0 518.0,490.0 512.0,496.0 508.0,502.0 506.0,508.0 507.0,515.0 506.0,522.0 502.0,516.0 498.0,511.0 495.0,505.0 493.0,499.0 490.0,493.0 484.0,487.0 478.0,484.0 471.0,480.0 464.0,475.0 458.0,471.0 455.0,465.0" fill="#0e5d9f"/>
<polygon points="426.0,448.0 430.0,451.0 435.0,456.0 441.0,461.0 449.0,464.0 455.0,465.0 458.0,471.0 464.0,475.0 471.0,480.0 478.0,484.0 484.0,487.0 490.0,493.0 493.0,499.0 495.0,505.0 492.0,508.0 486.0,510.0 480.0,512.0 472.0,511.0 464.0,510.0 456.0,509.0 448.0,507.0 442.0,503.0 435.0,504.0 430.0,508.0 427.0,502.0 419.0,500.0 415.0,494.0 410.0,489.0 404.0,484.0 402.0,477.0 404.0,470.0 409.0,466.0 412.0,461.0 415.0,455.0 417.0,449.0 420.0,446.0 426.0,448.0" fill="#2e79b4"/>
<polygon points="534.0,470.0 538.0,469.0 544.0,473.0 549.0,477.0 552.0,474.0 558.0,478.0 563.0,479.0 568.0,481.0 574.0,480.0 580.0,477.0 588.0,476.0 595.0,474.6 601.5,474.0 602.4,480.0 600.0,482.0 592.0,483.0 586.0,485.0 580.0,484.0 573.0,485.0 571.0,491.0 566.0,495.0 560.0,498.0 556.0,501.0 554.0,506.0 546.0,507.0 536.0,508.0 528.0,510.0 520.0,512.0 514.0,515.0 510.0,519.0 506.0,522.0 507.0,515.0 506.0,508.0 508.0,502.0 512.0,496.0 518.0,490.0 524.0,485.0 530.0,479.0 532.0,476.0 534.0,470.0" fill="#0a5a9b"/>
<polygon points="707.3,366.2 711.0,367.0 714.7,371.0 718.8,375.4 720.2,376.8 721.9,372.7 725.6,371.0 728.9,369.0 727.3,366.2" fill="#1f6cab" stroke="#d8ebfb" stroke-opacity="0.95" stroke-width="0.8"/>
</g>
<polygon points="836.0,608.0 837.0,615.0 836.0,623.0 828.0,628.0 820.0,633.0 810.0,639.0 800.0,644.0 793.0,649.0 795.0,654.0 804.0,655.0 812.0,657.0 820.0,661.0 826.0,667.0 830.0,675.0 833.0,683.0 830.0,691.0 827.0,696.0 832.0,700.0 840.0,704.0 848.0,703.0 855.0,698.0 860.0,693.0 866.0,687.0 874.0,684.0 884.0,681.0 890.0,682.0 892.0,677.0 898.0,674.0 902.0,668.0 909.0,665.0 918.0,668.0 920.0,671.0 930.0,669.0 940.0,668.0 941.0,661.0 943.0,655.0 948.0,652.0 944.0,649.0 936.0,648.0 928.0,649.0 924.0,652.0 919.0,650.0 916.0,653.0 912.0,656.0 906.0,659.0 900.0,660.0 894.0,656.0 888.0,654.0 886.0,650.0 890.0,645.0 886.0,639.0 882.0,634.0 876.0,631.0 870.0,629.0 866.0,625.0 860.0,621.0 854.0,617.0 848.0,613.0 842.0,609.0" fill="#c9c9c9"/>
<polygon points="826.0,696.0 832.0,685.0 836.0,685.0 842.0,693.0 845.0,702.0 840.0,704.0 832.0,700.0" fill="#c9c9c9" stroke="#eeeeee" stroke-width="0.6"/>
<rect x="692.8" y="355.1" width="46" height="10.5" fill="#0b2f5b"/>
<g font-family="'Liberation Sans', sans-serif" font-weight="bold" fill="#ffffff" text-anchor="middle">
 <text x="715.8" y="364.5" font-size="10.3" textLength="21.6" lengthAdjust="spacingAndGlyphs">Київ</text>
<text x="715.8" y="386.7" font-size="13" textLength="32.6" lengthAdjust="spacingAndGlyphs">31,8...</text>
<text x="502.3" y="319.6" font-size="10.3" textLength="54.5" lengthAdjust="spacingAndGlyphs">Волинська</text>
<clipPath id="vVol"><rect x="472.5" y="325.4" width="90" height="20"/></clipPath><g clip-path="url(#vVol)"><text x="533.7" y="339.4" font-size="13.4" text-anchor="end" textLength="64.4" lengthAdjust="spacingAndGlyphs">11,37 ТЫС.</text></g>
<text x="566.8" y="305.6" font-size="10.3" textLength="56.4" lengthAdjust="spacingAndGlyphs">Рівненська</text>
<clipPath id="vRiv"><rect x="545" y="311.6" width="90" height="20"/></clipPath><g clip-path="url(#vRiv)"><text x="606.6" y="325.6" font-size="13.4" text-anchor="end" textLength="64.4" lengthAdjust="spacingAndGlyphs">16,43 ТЫС.</text></g>
<text x="635.8" y="348.7" font-size="10.3" textLength="71" lengthAdjust="spacingAndGlyphs">Житомирська</text>
<text x="668.9" y="369.8" font-size="13.4" text-anchor="end" textLength="63.9" lengthAdjust="spacingAndGlyphs">10,63 ТЫС.</text>
<text x="465.2" y="400.8" font-size="10.3" textLength="50" lengthAdjust="spacingAndGlyphs">Львівська</text>
<text x="497.2" y="422.8" font-size="13.4" text-anchor="end" textLength="64.4" lengthAdjust="spacingAndGlyphs">25,70 ТЫС.</text>
<text x="528.9" y="423.4" font-size="10.3" textLength="38.6" lengthAdjust="spacingAndGlyphs">Терноп.</text>
<clipPath id="vTer"><rect x="497.8" y="429.5" width="90" height="20"/></clipPath><g clip-path="url(#vTer)"><text x="560.5" y="443.5" font-size="13.4" text-anchor="end" textLength="64.4" lengthAdjust="spacingAndGlyphs">17,97 ТЫС.</text></g>
<text x="580" y="405.5" font-size="10.3" textLength="41.2" lengthAdjust="spacingAndGlyphs">Хмельн.</text>
<clipPath id="vKhm"><rect x="549.7" y="411.2" width="90" height="20"/></clipPath><g clip-path="url(#vKhm)"><text x="611.5" y="425.2" font-size="13.4" text-anchor="end" textLength="64.4" lengthAdjust="spacingAndGlyphs">11,56 ТЫС.</text></g>
<text x="646.4" y="451.4" font-size="10.3" textLength="50.7" lengthAdjust="spacingAndGlyphs">Вінницька</text>
<text x="661.8" y="472.3" font-size="13.4" text-anchor="end" textLength="29.2" lengthAdjust="spacingAndGlyphs">8644</text>
<text x="711" y="404.8" font-size="10.3" textLength="43.9" lengthAdjust="spacingAndGlyphs">Київська</text>
<clipPath id="vKyiv"><rect x="680.4" y="410.5" width="90" height="20"/></clipPath><g clip-path="url(#vKyiv)"><text x="741.7" y="424.5" font-size="13.4" text-anchor="end" textLength="64.4" lengthAdjust="spacingAndGlyphs">13,42 ТЫС.</text></g>
<text x="739" y="440.6" font-size="10.3" textLength="52" lengthAdjust="spacingAndGlyphs">Черкаська</text>
<text x="753" y="460.6" font-size="13.4" text-anchor="end" textLength="29" lengthAdjust="spacingAndGlyphs">7314</text>
<text x="838.3" y="400.6" font-size="10.3" textLength="59.4" lengthAdjust="spacingAndGlyphs">Полтавська</text>
<text x="853" y="419.4" font-size="13.4" text-anchor="end" textLength="29" lengthAdjust="spacingAndGlyphs">6880</text>
<text x="783.5" y="478" font-size="10.3" textLength="79" lengthAdjust="spacingAndGlyphs">Кіровоградська</text>
<text x="798" y="498" font-size="13.4" text-anchor="end" textLength="28" lengthAdjust="spacingAndGlyphs">1697</text>
<text x="887.7" y="476.6" font-size="10.3" textLength="92.5" lengthAdjust="spacingAndGlyphs">Дніпропетровська</text>
<text x="919.5" y="496.4" font-size="13.4" text-anchor="end" textLength="62" lengthAdjust="spacingAndGlyphs">11,71 ТЫС.</text>
<text x="942" y="411" font-size="10.3" textLength="56" lengthAdjust="spacingAndGlyphs">Харківська</text>
<text x="967" y="430.6" font-size="13.4" text-anchor="end" textLength="50" lengthAdjust="spacingAndGlyphs">30,27 Т...</text>
<text x="1034" y="434" font-size="10.3" textLength="52" lengthAdjust="spacingAndGlyphs">Луганська</text>
<text x="1049" y="454" font-size="13.4" text-anchor="end" textLength="29" lengthAdjust="spacingAndGlyphs">2686</text>
<text x="988.6" y="500.6" font-size="10.3" textLength="50" lengthAdjust="spacingAndGlyphs">Донецька</text>
<text x="1003.6" y="519.4" font-size="13.4" text-anchor="end" textLength="28.6" lengthAdjust="spacingAndGlyphs">7629</text>
<text x="912.4" y="546.6" font-size="10.3" textLength="56" lengthAdjust="spacingAndGlyphs">Запорізька</text>
<text x="927" y="565.6" font-size="13.4" text-anchor="end" textLength="29" lengthAdjust="spacingAndGlyphs">6784</text>
<text x="769.3" y="305.6" font-size="10.3" textLength="62.6" lengthAdjust="spacingAndGlyphs">Чернігівська</text>
<text x="784" y="325.6" font-size="13.4" text-anchor="end" textLength="28.4" lengthAdjust="spacingAndGlyphs">7164</text>
<text x="845.5" y="330" font-size="10.3" textLength="43" lengthAdjust="spacingAndGlyphs">Сумська</text>
<text x="860" y="349" font-size="13.4" text-anchor="end" textLength="29.4" lengthAdjust="spacingAndGlyphs">9509</text>
<text x="708.5" y="551" font-size="10.3" textLength="43" lengthAdjust="spacingAndGlyphs">Одеська</text>
<clipPath id="vOde"><rect x="685.4" y="556.6" width="90" height="20"/></clipPath><g clip-path="url(#vOde)"><text x="735" y="570.6" font-size="13.4" text-anchor="end" textLength="50.5" lengthAdjust="spacingAndGlyphs">19,96 Т...</text></g>
<text x="770.4" y="538.6" font-size="10.3" textLength="70" lengthAdjust="spacingAndGlyphs">Миколаївська</text>
<text x="786" y="557.6" font-size="13.4" text-anchor="end" textLength="29.6" lengthAdjust="spacingAndGlyphs">6256</text>
<text x="838" y="580.6" font-size="10.3" textLength="60" lengthAdjust="spacingAndGlyphs">Херсонська</text>
<text x="853" y="599.4" font-size="13.4" text-anchor="end" textLength="29" lengthAdjust="spacingAndGlyphs">2739</text>
<text x="487.3" y="462" font-size="10.3" textLength="49.4" lengthAdjust="spacingAndGlyphs">Ів.-Франк.</text>
<clipPath id="vIF"><rect x="464.2" y="468" width="90" height="20"/></clipPath><g clip-path="url(#vIF)"><text x="514" y="482" font-size="13.4" text-anchor="end" textLength="50.5" lengthAdjust="spacingAndGlyphs">17,21 Т...</text></g>
<text x="435.3" y="476.5" font-size="10.3" textLength="49.5" lengthAdjust="spacingAndGlyphs">Закарпат.</text>
<clipPath id="vZak"><rect x="411.3" y="481.6" width="90" height="20"/></clipPath><g clip-path="url(#vZak)"><text x="468" y="495.6" font-size="13.4" text-anchor="end" textLength="64.4" lengthAdjust="spacingAndGlyphs">12,11 ТЫС.</text></g>
<text x="537.3" y="483" font-size="10.3" textLength="35.4" lengthAdjust="spacingAndGlyphs">Чернів.</text>
<text x="555" y="504" font-size="13.4" text-anchor="end" textLength="35.6" lengthAdjust="spacingAndGlyphs">18,31...</text>
</g>
</svg>
<svg class="abs" style="left:0;top:0" width="1340" height="739" viewBox="0 0 1340 739">
<circle cx="429.80" cy="604.73" r="1.6" fill="#203a7c"/>
<circle cx="434.19" cy="604.73" r="1.6" fill="#203a7c"/>
<circle cx="425.41" cy="604.73" r="1.6" fill="#203a7c"/>
<circle cx="429.80" cy="609.12" r="1.6" fill="#203a7c"/>
<circle cx="429.80" cy="600.34" r="1.6" fill="#203a7c"/>
<circle cx="429.80" cy="631.07" r="1.6" fill="#203a7c"/>
<circle cx="434.19" cy="631.07" r="1.6" fill="#203a7c"/>
<circle cx="425.41" cy="631.07" r="1.6" fill="#203a7c"/>
<circle cx="429.80" cy="635.46" r="1.6" fill="#203a7c"/>
<circle cx="429.80" cy="626.68" r="1.6" fill="#203a7c"/>
<circle cx="416.63" cy="617.90" r="1.6" fill="#203a7c"/>
<circle cx="421.02" cy="617.90" r="1.6" fill="#203a7c"/>
<circle cx="412.24" cy="617.90" r="1.6" fill="#203a7c"/>
<circle cx="416.63" cy="622.29" r="1.6" fill="#203a7c"/>
<circle cx="416.63" cy="613.51" r="1.6" fill="#203a7c"/>
<circle cx="442.97" cy="617.90" r="1.6" fill="#203a7c"/>
<circle cx="447.36" cy="617.90" r="1.6" fill="#203a7c"/>
<circle cx="438.58" cy="617.90" r="1.6" fill="#203a7c"/>
<circle cx="442.97" cy="622.29" r="1.6" fill="#203a7c"/>
<circle cx="442.97" cy="613.51" r="1.6" fill="#203a7c"/>
<circle cx="421.02" cy="609.12" r="1.7000000000000002" fill="#f0a336"/>
<circle cx="438.58" cy="609.12" r="1.7000000000000002" fill="#f0a336"/>
<circle cx="421.02" cy="626.68" r="1.7000000000000002" fill="#f0a336"/>
<circle cx="438.58" cy="626.68" r="1.7000000000000002" fill="#f0a336"/>
<circle cx="429.8" cy="617.9" r="4.300000000000001" fill="none" stroke="#f0a336" stroke-width="3.2"/>
<rect x="456.8" y="603.3" width="1" height="29.200000000000045" fill="#5a6c98"/>
<g font-family="'Liberation Sans', sans-serif" font-weight="bold" fill="#2f4b8d" stroke="#2f4b8d" stroke-width="0.3" font-size="7.8">
<text x="463.7" y="610.9" textLength="22.2" lengthAdjust="spacingAndGlyphs">ЦЕНТР</text>
<text x="463.7" y="620.5" textLength="57" lengthAdjust="spacingAndGlyphs">ГРОМАДСЬКОГО</text>
<text x="463.7" y="630" textLength="35" lengthAdjust="spacingAndGlyphs">ЗДОРОВ'Я</text>
</g>
<circle cx="1155.00" cy="698.23" r="1.6" fill="#203a7c"/>
<circle cx="1159.39" cy="698.23" r="1.6" fill="#203a7c"/>
<circle cx="1150.61" cy="698.23" r="1.6" fill="#203a7c"/>
<circle cx="1155.00" cy="702.62" r="1.6" fill="#203a7c"/>
<circle cx="1155.00" cy="693.84" r="1.6" fill="#203a7c"/>
<circle cx="1155.00" cy="724.57" r="1.6" fill="#203a7c"/>
<circle cx="1159.39" cy="724.57" r="1.6" fill="#203a7c"/>
<circle cx="1150.61" cy="724.57" r="1.6" fill="#203a7c"/>
<circle cx="1155.00" cy="728.96" r="1.6" fill="#203a7c"/>
<circle cx="1155.00" cy="720.18" r="1.6" fill="#203a7c"/>
<circle cx="1141.83" cy="711.40" r="1.6" fill="#203a7c"/>
<circle cx="1146.22" cy="711.40" r="1.6" fill="#203a7c"/>
<circle cx="1137.44" cy="711.40" r="1.6" fill="#203a7c"/>
<circle cx="1141.83" cy="715.79" r="1.6" fill="#203a7c"/>
<circle cx="1141.83" cy="707.01" r="1.6" fill="#203a7c"/>
<circle cx="1168.17" cy="711.40" r="1.6" fill="#203a7c"/>
<circle cx="1172.56" cy="711.40" r="1.6" fill="#203a7c"/>
<circle cx="1163.78" cy="711.40" r="1.6" fill="#203a7c"/>
<circle cx="1168.17" cy="715.79" r="1.6" fill="#203a7c"/>
<circle cx="1168.17" cy="707.01" r="1.6" fill="#203a7c"/>
<circle cx="1146.22" cy="702.62" r="1.7000000000000002" fill="#f0a336"/>
<circle cx="1163.78" cy="702.62" r="1.7000000000000002" fill="#f0a336"/>
<circle cx="1146.22" cy="720.18" r="1.7000000000000002" fill="#f0a336"/>
<circle cx="1163.78" cy="720.18" r="1.7000000000000002" fill="#f0a336"/>
<circle cx="1155" cy="711.4" r="4.300000000000001" fill="none" stroke="#f0a336" stroke-width="3.2"/>
<rect x="1183.1" y="697.5" width="1" height="28.799999999999955" fill="#5a6c98"/>
<g font-family="'Liberation Sans', sans-serif" font-weight="bold" fill="#2f4b8d" stroke="#2f4b8d" stroke-width="0.3" font-size="7.8">
<text x="1189.5" y="704.7" textLength="22.2" lengthAdjust="spacingAndGlyphs">ЦЕНТР</text>
<text x="1189.5" y="714.3" textLength="56.6" lengthAdjust="spacingAndGlyphs">ГРОМАДСЬКОГО</text>
<text x="1189.5" y="723.1" textLength="35" lengthAdjust="spacingAndGlyphs">ЗДОРОВ'Я</text>
</g>
</svg>
<div class="t" style="left:1136.6px;top:218.8px;width:193px;text-align:center;font-weight:bold;font-size:13.2px;letter-spacing:0.05px;line-height:15px;color:#333">РОЗГОРНУТА ІНФОРМАЦІЯ</div>
<div class="btn" style="left:1135px;top:248px;width:192px;height:72.6px;border:2px solid #123d73;padding-top:4.8px">Переглянути дані за добу в<br>розрізі областей</div>
<svg style="position:absolute;left:1272.4px;top:286px" width="38" height="30" viewBox="0 0 38 30">
<g fill="none" stroke="#161616" stroke-width="1.45">
<rect x="1.2" y="1.2" width="35.6" height="27.4"/>
<path d="M1.2,6.8 H36.8"/>
<path d="M1.2,12.3 H36.8"/>
<path d="M1.2,17.8 H36.8"/>
<path d="M1.2,23.1 H36.8"/>
<path d="M9.9,6.8 V28.6"/>
<path d="M18.9,6.8 V28.6"/>
<path d="M27.5,6.8 V28.6"/>
<path d="M15.6,3.9 H30.4" stroke-width="1.6"/><path d="M32,3.9 H34.6" stroke-width="1.6"/>
</g></svg>
<div class="btn" style="left:1134px;top:331px;width:192.6px;height:72.6px;border:2px solid #2d5c97;padding-top:4.2px">Статистика подобова<br>загальна</div>
<svg style="position:absolute;left:1272.4px;top:355.8px" width="42" height="38" viewBox="0 0 42 38">
<path d="M3.6,15.6 L14.3,7.8 L24.7,12.4 L35.4,3.6" fill="none" stroke="#555555" stroke-width="3.3"/>
<path d="M3.6,15.6 L14.3,7.8 L24.7,12.4 L35.4,3.6" fill="none" stroke="#ffffff" stroke-width="0.9"/>
<g fill="#ffffff" stroke="#555555" stroke-width="1.55">
<rect x="0.8" y="23.6" width="5.9" height="12.3" rx="1.7"/>
<rect x="11.5" y="15.8" width="5.9" height="20.1" rx="1.7"/>
<rect x="21.9" y="20.6" width="5.9" height="15.3" rx="1.7"/>
<rect x="32.6" y="11.9" width="5.9" height="24.0" rx="1.7"/>
<circle cx="3.6" cy="15.6" r="2.85"/>
<circle cx="14.3" cy="7.8" r="2.85"/>
<circle cx="24.7" cy="12.4" r="2.85"/>
<circle cx="35.4" cy="3.6" r="2.85"/>
</g></svg>
<div class="btn" style="left:1135px;top:412px;width:192px;height:72.6px;border:2px solid #2d5c97;padding-top:5px">Статистика подобова нових<br>випадків</div>
<svg style="position:absolute;left:1273.1px;top:438.4px" width="42" height="38" viewBox="0 0 42 38">
<path d="M3.6,15.6 L14.3,7.8 L24.7,12.4 L35.4,3.6" fill="none" stroke="#555555" stroke-width="3.3"/>
<path d="M3.6,15.6 L14.3,7.8 L24.7,12.4 L35.4,3.6" fill="none" stroke="#ffffff" stroke-width="0.9"/>
<g fill="#ffffff" stroke="#555555" stroke-width="1.55">
<rect x="0.8" y="23.6" width="5.9" height="12.3" rx="1.7"/>
<rect x="11.5" y="15.8" width="5.9" height="20.1" rx="1.7"/>
<rect x="21.9" y="20.6" width="5.9" height="15.3" rx="1.7"/>
<rect x="32.6" y="11.9" width="5.9" height="24.0" rx="1.7"/>
<circle cx="3.6" cy="15.6" r="2.85"/>
<circle cx="14.3" cy="7.8" r="2.85"/>
<circle cx="24.7" cy="12.4" r="2.85"/>
<circle cx="35.4" cy="3.6" r="2.85"/>
</g></svg>
<div class="t" style="left:1134px;top:528.6px;width:191px;text-align:center;font-size:13.8px;line-height:15px;color:#333">ДАНІ СТАНОМ НА</div>
<div class="t" style="left:1134px;top:548.2px;width:191px;text-align:center;font-size:20px;line-height:22px;color:#252423">21.10.2020</div>
<div class="t" style="left:1140.2px;top:590.4px;font-weight:bold;font-size:12.3px;line-height:14px;color:#252423">ПРИМІТКА</div>
<svg class="abs" style="left:1138px;top:606.6px" width="200" height="18"><text x="2.2" y="12.7" font-family="'Liberation Sans', sans-serif" font-style="italic" font-size="12.7" fill="#444" textLength="176.5" lengthAdjust="spacingAndGlyphs">Дані з АР Крим та території</text></svg>
<svg class="abs" style="left:1138px;top:623.9px" width="200" height="18"><text x="2.2" y="12.7" font-family="'Liberation Sans', sans-serif" font-style="italic" font-size="12.7" fill="#444" textLength="157.4" lengthAdjust="spacingAndGlyphs">ОРДЛО відсутні у зв'язку з</text></svg>
<svg class="abs" style="left:1138px;top:641.2px" width="200" height="18"><text x="2.2" y="12.7" font-family="'Liberation Sans', sans-serif" font-style="italic" font-size="12.7" fill="#444" textLength="139.4" lengthAdjust="spacingAndGlyphs">тимчасовою окупацією</text></svg>
<svg style="position:absolute;left:1250px;top:690px" width="90" height="45" viewBox="1250 690 90 45">
<text x="1258.4" y="718.5" font-family="'Liberation Sans', sans-serif" font-size="20" fill="#1e9fe0" textLength="51.4" lengthAdjust="spacingAndGlyphs">unicef</text>
<circle cx="1322.5" cy="711.2" r="9.7" fill="#5db9ed"/>
<circle cx="1322.5" cy="711.2" r="9.2" fill="none" stroke="#bfe3f8" stroke-width="0.9" stroke-dasharray="1.4 1.1"/>
<g fill="#1e9fe0"><circle cx="1319.4" cy="706.8" r="1.7"/><circle cx="1325.3" cy="709.6" r="2.3"/>
<path d="M1316.6,710.2 Q1319.4,707.8 1321.6,710.4 Q1322.8,713.4 1321,716 Q1317.6,715.4 1316.6,710.2 Z"/>
<path d="M1322,713.8 Q1325.4,711 1328.6,713.6 Q1328.4,717.4 1324.6,718.8 Q1321.6,717.2 1322,713.8 Z"/></g>
</svg>
</body></html>
